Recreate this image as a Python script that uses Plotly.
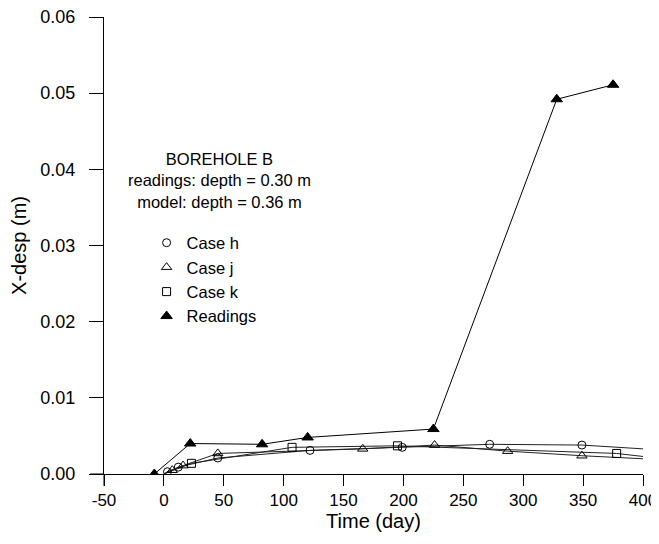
import plotly.graph_objects as go

# Readings (filled triangles)
read_t = [-8, 22, 82, 120, 225, 328, 375]
read_x = [0.0, 0.0040, 0.0039, 0.0048, 0.0059, 0.0492, 0.0511]

# Case h (circles) model curve and markers
h_line_t = [0, 3, 12, 45, 122, 199, 272, 349, 400]
h_line_x = [0.0, 0.0003, 0.0009, 0.0021, 0.0031, 0.0035, 0.0039, 0.0038, 0.0033]
h_mark_t = [3, 12, 45, 122, 199, 272, 349]
h_mark_x = [0.0003, 0.0009, 0.0021, 0.0031, 0.0035, 0.0039, 0.0038]

# Case j (open triangles)
j_line_t = [0, 7, 16, 45, 166, 226, 287, 349, 400]
j_line_x = [0.0, 0.0005, 0.0011, 0.0027, 0.0033, 0.0038, 0.0030, 0.0024, 0.0020]
j_mark_t = [7, 16, 45, 166, 226, 287, 349]
j_mark_x = [0.0005, 0.0011, 0.0027, 0.0033, 0.0038, 0.0030, 0.0024]

# Case k (open squares)
k_line_t = [0, 23, 107, 195, 378, 400]
k_line_x = [0.0, 0.0014, 0.0035, 0.0037, 0.0027, 0.0023]
k_mark_t = [23, 107, 195, 378]
k_mark_x = [0.0014, 0.0035, 0.0037, 0.0027]

x_ticks = [-50, 0, 50, 100, 150, 200, 250, 300, 350, 400]
y_ticks = [0.00, 0.01, 0.02, 0.03, 0.04, 0.05, 0.06]

FONT = "Liberation Sans, Arial, sans-serif"
fig = go.Figure()

for lt, lx in [(h_line_t, h_line_x), (j_line_t, j_line_x), (k_line_t, k_line_x)]:
    fig.add_trace(go.Scatter(x=lt, y=lx, mode="lines", showlegend=False,
                             line=dict(color="#222222", width=1), hoverinfo="skip"))
fig.add_trace(go.Scatter(x=read_t, y=read_x, mode="lines", showlegend=False,
                         line=dict(color="black", width=1), hoverinfo="skip"))

marker_specs = [
    ("Case h", h_mark_t, h_mark_x, "circle-open", 8),
    ("Case j", j_mark_t, j_mark_x, "triangle-up-open", 9),
    ("Case k", k_mark_t, k_mark_x, "square-open", 8),
    ("Readings", read_t, read_x, "triangle-up", 10),
]
for i, (name, mt, mx, sym, sz) in enumerate(marker_specs):
    fig.add_trace(go.Scatter(x=mt, y=mx, mode="markers", name=name, legendgroup=f"g{i}",
                             marker=dict(symbol=sym, size=sz, color="black",
                                         line=dict(color="black", width=1))))

# page body has an 8px margin, so the figure is sized/offset to compensate
fig.update_layout(
    width=651, height=536,
    margin=dict(l=96, r=16, t=9, b=70),
    paper_bgcolor="white", plot_bgcolor="white",
    font=dict(family=FONT, size=17, color="black"),
    legend=dict(x=0.079, y=0.5438, xanchor="left", yanchor="top",
                bgcolor="rgba(0,0,0,0)", font=dict(size=16.5), itemsizing="trace",
                tracegroupgap=0),
    annotations=[dict(x=0.215, y=0.6433, xref="paper", yref="paper", showarrow=False,
                      xanchor="center", yanchor="middle", align="center",
                      text="BOREHOLE B<br>readings: depth = 0.30 m<br>model: depth = 0.36 m",
                      font=dict(size=16.5))],
)
fig.update_xaxes(range=[-50, 400], tickvals=x_ticks, ticktext=[str(v) for v in x_ticks],
                 showgrid=False, zeroline=False, showline=True, linecolor="black", linewidth=1,
                 ticks="outside", ticklen=11, tickcolor="black", automargin=False,
                 ticklabeloverflow="allow",
                 tickfont=dict(size=17), title=dict(text="Time (day)", standoff=2),
                 ticklabelstandoff=0)
fig.update_yaxes(range=[0, 0.06], tickvals=y_ticks, ticktext=[f"{v:.2f}" for v in y_ticks],
                 showgrid=False, zeroline=False, showline=True, linecolor="black", linewidth=1,
                 ticks="outside", ticklen=14, tickcolor="black", automargin=False,
                 ticklabeloverflow="allow",
                 tickfont=dict(size=18), title=dict(text="X-desp (m)", standoff=10),
                 ticklabelstandoff=10)
# axis line extensions past the crossing point (SigmaPlot-style)
fig.add_shape(type="line", xref="x domain", yref="paper", x0=-0.026, x1=0, y0=0, y1=0,
              line=dict(color="black", width=1))
fig.add_shape(type="line", xref="paper", yref="y domain", x0=0, x1=0, y0=-0.026, y1=0,
              line=dict(color="black", width=1))

fig.write_html("out.html")
